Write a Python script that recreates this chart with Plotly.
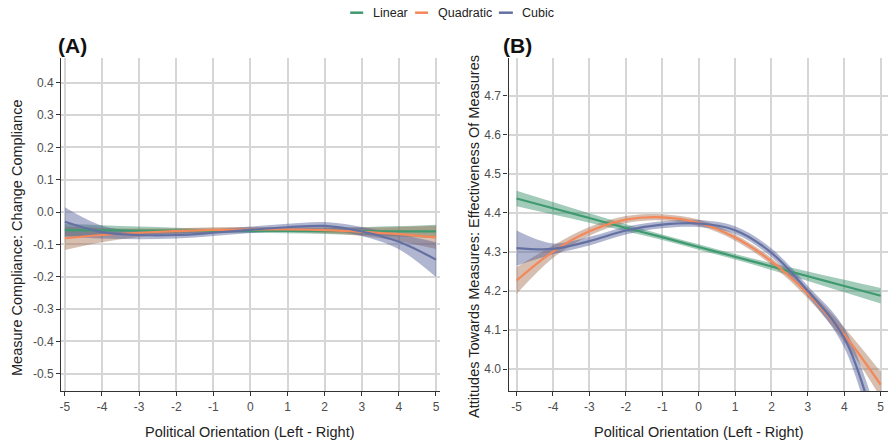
import plotly.graph_objects as go

# ---------------- data ----------------
x_vals = [-5, -4, -3, -2, -1, 0, 1, 2, 3, 4, 5]
x_ticktext = ["-5", "-4", "-3", "-2", "-1", "0", "1", "2", "3", "4", "5"]

# Panel A: Measure Compliance: Change Compliance
linear_A = [-0.056, -0.0565, -0.057, -0.0575, -0.058, -0.058, -0.0585, -0.059, -0.059, -0.0595, -0.060]
linear_A_hw = [0.020, 0.016, 0.012, 0.009, 0.007, 0.007, 0.007, 0.009, 0.012, 0.016, 0.021]
quad_A = [-0.081, -0.071, -0.064, -0.059, -0.055, -0.054, -0.054, -0.056, -0.061, -0.068, -0.078]
quad_A_hw = [0.036, 0.022, 0.013, 0.009, 0.008, 0.008, 0.008, 0.009, 0.013, 0.022, 0.036]
cubic_A = [-0.030, -0.062, -0.071, -0.071, -0.064, -0.055, -0.047, -0.043, -0.060, -0.092, -0.147]
cubic_A_hw = [0.045, 0.020, 0.013, 0.011, 0.010, 0.010, 0.011, 0.012, 0.014, 0.023, 0.054]
yA_tickvals = [0.4, 0.3, 0.2, 0.1, 0.0, -0.1, -0.2, -0.3, -0.4, -0.5]
yA_ticktext = ["0.4", "0.3", "0.2", "0.1", "0.0", "-0.1", "-0.2", "-0.3", "-0.4", "-0.5"]

# Panel B: Attitudes Towards Measures: Effectiveness Of Measures
linear_B = [4.437, 4.412, 4.387, 4.362, 4.338, 4.313, 4.288, 4.263, 4.238, 4.213, 4.188]
linear_B_hw = [0.020, 0.016, 0.012, 0.009, 0.007, 0.007, 0.007, 0.009, 0.012, 0.016, 0.020]
quad_B = [4.227, 4.301, 4.353, 4.383, 4.389, 4.375, 4.337, 4.276, 4.193, 4.088, 3.960]
quad_B_hw = [0.034, 0.016, 0.011, 0.009, 0.008, 0.008, 0.008, 0.009, 0.012, 0.018, 0.033]
cubic_B = [4.310, 4.308, 4.328, 4.355, 4.370, 4.373, 4.356, 4.298, 4.200, 4.080, 3.800]
cubic_B_hw = [0.045, 0.014, 0.011, 0.010, 0.009, 0.009, 0.010, 0.011, 0.013, 0.025, 0.050]
yB_tickvals = [4.0, 4.1, 4.2, 4.3, 4.4, 4.5, 4.6, 4.7]
yB_ticktext = ["4.0", "4.1", "4.2", "4.3", "4.4", "4.5", "4.6", "4.7"]

series_names = ["Linear", "Quadratic", "Cubic"]
line_colors = ["#3f9a70", "#f4885a", "#6470a2"]
fill_colors = ["rgba(50,140,100,0.45)", "rgba(165,110,80,0.45)", "rgba(80,90,150,0.45)"]

W, H = 888, 443
FONT = "Liberation Sans, Arial, sans-serif"


def px(x):
    return x / W


def py(y):
    return 1 - y / H


fig = go.Figure()

panels = [
    ("x", "y", [(linear_A, linear_A_hw), (quad_A, quad_A_hw), (cubic_A, cubic_A_hw)]),
    ("x2", "y2", [(linear_B, linear_B_hw), (quad_B, quad_B_hw), (cubic_B, cubic_B_hw)]),
]

for xa, ya, sers in panels:
    for (c, hw), fc in zip(sers, fill_colors):
        lower = [v - h for v, h in zip(c, hw)]
        upper = [v + h for v, h in zip(c, hw)]
        fig.add_trace(go.Scatter(x=x_vals, y=lower, mode="lines",
                                 line=dict(width=0, shape="spline", color=fc),
                                 xaxis=xa, yaxis=ya, showlegend=False, hoverinfo="skip"))
        fig.add_trace(go.Scatter(x=x_vals, y=upper, mode="lines",
                                 line=dict(width=0, shape="spline", color=fc),
                                 fill="tonexty", fillcolor=fc,
                                 xaxis=xa, yaxis=ya, showlegend=False, hoverinfo="skip"))
    for (c, hw), lc, nm in zip(sers, line_colors, series_names):
        fig.add_trace(go.Scatter(x=x_vals, y=c, mode="lines", name=nm,
                                 line=dict(width=2.2, shape="spline", color=lc),
                                 xaxis=xa, yaxis=ya, showlegend=False))

y_dom = [py(391), py(58)]
axis_common = dict(showgrid=True, gridcolor="#d6d6d6", gridwidth=1.6, zeroline=False,
                   showline=True, linecolor="#333333", linewidth=1.3,
                   ticks="outside", ticklen=4, tickwidth=1, tickcolor="#333333",
                   tickfont=dict(family=FONT, size=12, color="#4d4d4d"),
                   fixedrange=True)

fig.update_layout(
    width=W, height=H,
    margin=dict(l=0, r=0, t=0, b=0),
    paper_bgcolor="white", plot_bgcolor="white",
    showlegend=False,
    font=dict(family=FONT),
    xaxis=dict(domain=[px(59.3), px(438.7)], range=[-5.1, 5.1], anchor="y",
               tickvals=x_vals, ticktext=x_ticktext, **axis_common),
    yaxis=dict(domain=y_dom, range=[-0.553, 0.476], anchor="x",
               tickvals=yA_tickvals, ticktext=yA_ticktext, **axis_common),
    xaxis2=dict(domain=[px(507.7), 1.0], range=[-5.22, 5.20], anchor="y2",
                tickvals=x_vals, ticktext=x_ticktext, **axis_common),
    yaxis2=dict(domain=y_dom, range=[3.944, 4.797], anchor="x2",
                tickvals=yB_tickvals, ticktext=yB_ticktext, **axis_common),
)

ann = []
title_font = dict(family=FONT, size=14.5, color="#222222")
ann.append(dict(text="Political Orientation (Left - Right)", x=px(249), y=py(432),
                xref="paper", yref="paper", showarrow=False, font=title_font,
                xanchor="center", yanchor="middle"))
ann.append(dict(text="Political Orientation (Left - Right)", x=px(699), y=py(432),
                xref="paper", yref="paper", showarrow=False, font=title_font,
                xanchor="center", yanchor="middle"))
ann.append(dict(text="Measure Compliance: Change Compliance", x=px(15), y=py(238),
                xref="paper", yref="paper", showarrow=False, font=title_font, textangle=-90,
                xanchor="center", yanchor="middle"))
ann.append(dict(text="Attitudes Towards Measures: Effectiveness Of Measures", x=px(473), y=py(236),
                xref="paper", yref="paper", showarrow=False, font=title_font, textangle=-90,
                xanchor="center", yanchor="middle"))
tag_font = dict(family=FONT, size=21, color="#111111")
ann.append(dict(text="<b>(A)</b>", x=px(54), y=py(45), xref="paper", yref="paper",
                showarrow=False, font=tag_font, xanchor="left", yanchor="middle"))
ann.append(dict(text="<b>(B)</b>", x=px(500), y=py(45), xref="paper", yref="paper",
                showarrow=False, font=tag_font, xanchor="left", yanchor="middle"))

legend_font = dict(family=FONT, size=12.5, color="#222222")
leg_y = 12.7
leg_line_x = [(349, 362), (414, 427), (498, 512)]
leg_text_x = [370, 435, 519]
shapes = []
for (x0, x1), tx, lc, nm in zip(leg_line_x, leg_text_x, line_colors, series_names):
    shapes.append(dict(type="line", xref="paper", yref="paper",
                       x0=px(x0), x1=px(x1), y0=py(leg_y), y1=py(leg_y),
                       line=dict(color=lc, width=2.5)))
    ann.append(dict(text=nm, x=px(tx), y=py(leg_y), xref="paper", yref="paper",
                    showarrow=False, font=legend_font, xanchor="left", yanchor="middle"))

fig.update_layout(annotations=ann, shapes=shapes)

# remove the browser's default 8px body margin so the figure fills the window exactly
fig.write_html("out.html", config={"displayModeBar": False},
               post_script="document.body.style.margin='0';")
